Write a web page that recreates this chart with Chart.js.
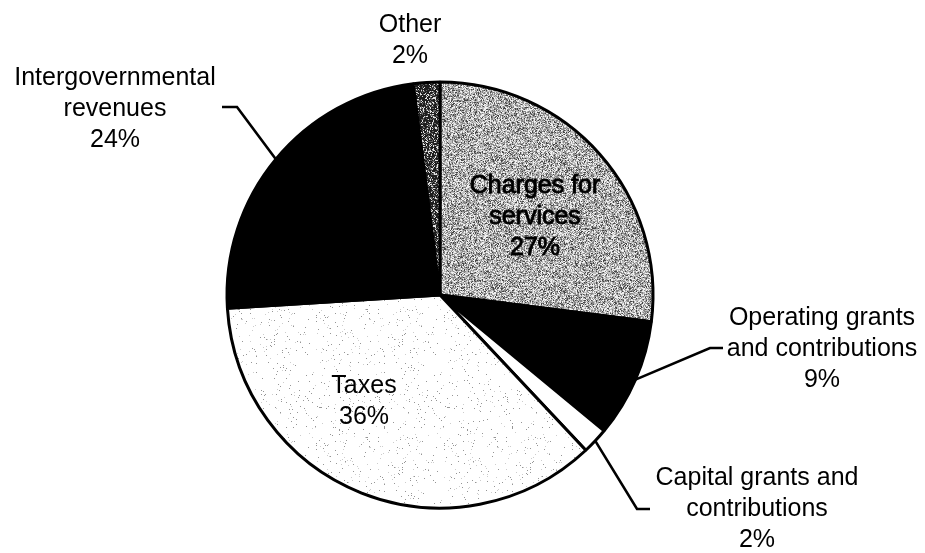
<!DOCTYPE html>
<html>
<head>
<meta charset="utf-8">
<title>Revenues by source</title>
<script src="https://cdn.jsdelivr.net/npm/chart.js@4/dist/chart.umd.min.js"></script>
<style>
  html, body { margin: 0; padding: 0; background: #ffffff; }
  #wrap { width: 925px; height: 553px; }
</style>
</head>
<body>
<div id="wrap"><canvas id="pie" width="925" height="553"></canvas></div>
<script>
// Revenue sources, clockwise from 12 o'clock
const categories = [
  'Charges for services',
  'Operating grants and contributions',
  'Capital grants and contributions',
  'Taxes',
  'Intergovernmental revenues',
  'Other'
];
const shares = [27, 9, 2, 36, 24, 2];
const labelLines = [
  ['Charges for', 'services'],
  ['Operating grants', 'and contributions'],
  ['Capital grants and', 'contributions'],
  ['Taxes'],
  ['Intergovernmental', 'revenues'],
  ['Other']
];

// Where each label block sits (centre x, first baseline) and the elbow of its leader line
const labelLayout = [
  { x: 535, y: 193, bold: true },
  { x: 822, y: 325, leader: [[723, 348], [710, 348]] },
  { x: 757, y: 485, leader: [[650, 509], [637, 509]] },
  { x: 364, y: 393 },
  { x: 115, y: 85, leader: [[222, 107], [237, 107]] },
  { x: 410, y: 32 }
];

// Deterministic speckle textures for the shaded slices
function hash(x, y, seed) {
  let n = Math.imul(x, 374761393) + Math.imul(y, 668265263) + Math.imul(seed, 144665);
  n = Math.imul(n ^ (n >>> 13), 1274126177);
  return ((n ^ (n >>> 16)) >>> 0) / 4294967296;
}
function speckle(seed, shade) {
  const size = 128;
  const c = document.createElement('canvas');
  c.width = size; c.height = size;
  const g = c.getContext('2d');
  const img = g.createImageData(size, size);
  for (let y = 0; y < size; y++) {
    for (let x = 0; x < size; x++) {
      const v = shade(hash(x, y, seed));
      const i = (y * size + x) * 4;
      img.data[i] = img.data[i + 1] = img.data[i + 2] = v;
      img.data[i + 3] = 255;
    }
  }
  g.putImageData(img, 0, 0);
  return g.createPattern(c, 'repeat');
}
const ctx = document.getElementById('pie').getContext('2d');
const greyTexture = speckle(1, r => r < 0.12 ? 70 : r < 0.42 ? 135 : r < 0.74 ? 190 : 240);
const darkTexture = speckle(2, r => r < 0.55 ? 30 : r < 0.8 ? 100 : 225);
const lightTexture = speckle(3, r => r < 0.015 ? 150 : r < 0.025 ? 205 : 255);

const fills = [greyTexture, '#000000', '#ffffff', lightTexture, '#000000', darkTexture];

const FONT = '25px "Liberation Sans", Arial, sans-serif';
const LINE_H = 31;

const labelPlugin = {
  id: 'sliceLabels',
  afterDatasetsDraw(chart) {
    const c = chart.ctx;
    const arcs = chart.getDatasetMeta(0).data;
    c.save();
    c.font = FONT;
    c.textAlign = 'center';
    c.textBaseline = 'alphabetic';
    c.fillStyle = '#000000';
    c.strokeStyle = '#000000';
    labelLayout.forEach((lay, i) => {
      const lines = labelLines[i].concat([shares[i] + '%']);
      if (lay.leader) {
        const a = arcs[i];
        const mid = (a.startAngle + a.endAngle) / 2;
        const px = a.x + Math.cos(mid) * a.outerRadius;
        const py = a.y + Math.sin(mid) * a.outerRadius;
        c.save();
        c.lineWidth = 2.6;
        c.lineJoin = 'miter';
        c.beginPath();
        c.moveTo(lay.leader[0][0], lay.leader[0][1]);
        c.lineTo(lay.leader[1][0], lay.leader[1][1]);
        c.lineTo(px, py);
        c.stroke();
        c.restore();
      }
      lines.forEach((t, k) => {
        const y = lay.y + k * LINE_H;
        if (lay.bold) {
          c.lineWidth = 0.9;
          c.strokeText(t, lay.x, y);
        }
        c.fillText(t, lay.x, y);
      });
    });
    c.restore();
  }
};

new Chart(ctx, {
  type: 'pie',
  data: {
    labels: categories,
    datasets: [{
      data: shares,
      backgroundColor: fills,
      borderColor: '#000000',
      borderWidth: 3,
      hoverOffset: 0
    }]
  },
  options: {
    responsive: false,
    animation: false,
    events: [],
    radius: 213,
    layout: { padding: { left: 0, right: 45, top: 37, bottom: 0 } },
    plugins: {
      legend: { display: false },
      tooltip: { enabled: false },
      title: { display: false }
    }
  },
  plugins: [labelPlugin]
});
</script>
</body>
</html>
